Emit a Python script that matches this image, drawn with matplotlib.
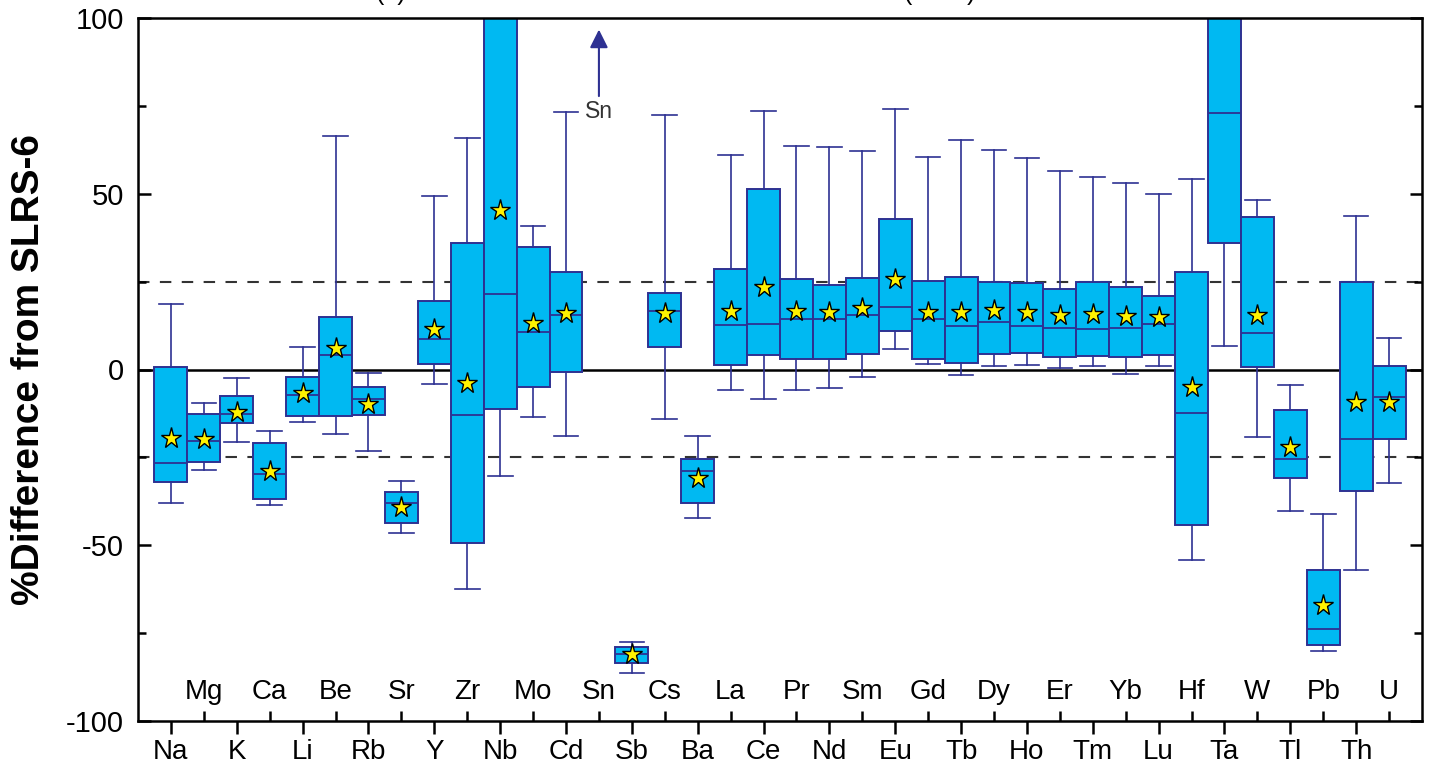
import numpy as np
import matplotlib
matplotlib.use('Agg')
import matplotlib.pyplot as plt

plt.rcParams['font.family'] = ['Liberation Sans', 'DejaVu Sans']
plt.rcParams['axes.unicode_minus'] = False

# elements in plotting order (Sn is off scale, drawn as an arrow)
elements = ['Na', 'Mg', 'K', 'Ca', 'Li', 'Be', 'Rb', 'Sr', 'Y', 'Zr',
            'Nb', 'Mo', 'Cd', 'Sn', 'Sb', 'Cs', 'Ba', 'La', 'Ce', 'Pr',
            'Nd', 'Sm', 'Eu', 'Gd', 'Tb', 'Dy', 'Ho', 'Er', 'Tm', 'Yb',
            'Lu', 'Hf', 'Ta', 'W', 'Tl', 'Pb', 'Th', 'U']
nan = np.nan
whis_lo = [-38, -28.6, -20.6, -38.5, -14.9, -18.3, -23.2, -46.5, -4, -62.4,
           -30.3, -13.5, -18.9, nan, -86.4, -14.1, -42.2, -5.8, -8.4, -5.8,
           -5.3, -2.1, 5.8, 1.5, -1.5, 1, 1.3, 0.4, 1, -1.3,
           1, -54.2, 6.7, -19.2, -40.3, -80.1, -57, -32.3]
q1 = [-32, -26.3, -15.2, -36.8, -13.2, -13.2, -13, -43.7, 1.5, -49.4,
      -11.2, -5, -0.7, nan, -83.6, 6.3, -38, 1.3, 4.1, 3,
      3, 4.4, 10.9, 3, 1.8, 4.4, 4.7, 3.6, 3.8, 3.6,
      4.1, -44.2, 36, 0.7, -30.9, -78.4, -34.6, -19.8]
med = [-26.6, -20.3, -12.7, -29.7, -7.2, 4.1, -8.4, -38, 8.7, -13,
       21.5, 10.7, 15.5, nan, -81, 16.6, -28.9, 12.6, 13, 14.4,
       14.4, 15.5, 17.8, 14.3, 12.4, 13.5, 12.4, 11.8, 11.5, 11.8,
       12.9, -12.4, 73, 10.4, -25.5, -73.8, -19.8, -7.8]
q3 = [0.7, -12.7, -7.5, -20.9, -2.1, 14.9, -5, -34.8, 19.5, 36,
      115, 34.8, 27.7, nan, -79, 21.7, -25.5, 28.6, 51.3, 25.8,
      24, 26, 42.8, 25.2, 26.3, 24.9, 24.6, 22.9, 24.9, 23.5,
      20.9, 27.7, 120, 43.4, -11.5, -57, 24.9, 1]
whis_hi = [18.7, -9.5, -2.4, -17.5, 6.4, 66.4, -1, -31.7, 49.3, 65.9,
           140, 40.8, 73.3, nan, -77.5, 72.4, -18.9, 61, 73.5, 63.6,
           63.3, 62.1, 74, 60.5, 65.3, 62.4, 60.2, 56.5, 54.8, 53.1,
           49.9, 54.2, 150, 48.3, -4.4, -41.1, 43.7, 9]
mean = [-19.5, -19.8, -12, -29, -6.7, 6.1, -9.8, -39.1, 11.5, -3.9,
        45.4, 13.3, 16.1, nan, -81, 16, -30.9, 16.6, 23.5, 16.6,
        16.4, 17.5, 25.7, 16.4, 16.4, 16.9, 16.4, 15.5, 15.8, 15.2,
        14.9, -4.9, 110, 15.5, -22, -67, -9.2, -9.2]

box_fc = '#00B9F2'
navy = '#2E3192'

stats, pos = [], []
for i, el in enumerate(elements):
    if np.isnan(med[i]):
        continue
    stats.append(dict(whislo=whis_lo[i], q1=q1[i], med=med[i], q3=q3[i],
                      whishi=whis_hi[i], mean=mean[i], fliers=[], label=el))
    pos.append(i + 1)

fig = plt.figure(figsize=(14.4, 7.72), dpi=100)
ax = fig.add_axes([138/1440, 1-721/772, 1284/1440, 703/772])

ax.axhline(0, color='black', lw=1.8, zorder=1)
for yv in (25, -25):
    ax.axhline(yv, color='#333333', lw=1.5, ls=(0, (5.5, 5)), zorder=1)

ax.bxp(stats, positions=pos, widths=1.0, capwidths=0.75, patch_artist=True,
       showmeans=True, manage_ticks=False,
       boxprops=dict(facecolor=box_fc, edgecolor=navy, lw=1.4),
       whiskerprops=dict(color=navy, lw=1.2),
       capprops=dict(color=navy, lw=1.2),
       medianprops=dict(color=navy, lw=1.3),
       meanprops=dict(marker='*', markerfacecolor='#FFF200',
                      markeredgecolor='black', markeredgewidth=1,
                      markersize=15.5),
       zorder=2)

# Sn is off the top of the scale
sn = elements.index('Sn') + 1
ax.annotate('', xy=(sn, 97.5), xytext=(sn, 77),
            arrowprops=dict(arrowstyle='-|>,head_length=0.5,head_width=0.25',
                            color=navy, lw=1.5, mutation_scale=22))
ax.text(sn, 73.3, 'Sn', ha='center', va='center', fontsize=16.5, color='#333333')

ax.set_xlim(0, len(elements) + 1)
ax.set_ylim(-100, 100)

# element labels alternate: below the axis and just inside it
odd = [i + 1 for i in range(0, len(elements), 2)]
even = [i + 1 for i in range(1, len(elements), 2)]
ax.set_xticks(odd, [elements[i - 1] for i in odd], fontsize=20)
ax.set_xticks(even, [elements[i - 1] for i in even], minor=True, fontsize=20)
ax.tick_params(axis='x', which='major', direction='out', length=9, width=1.8, pad=4)
ax.tick_params(axis='x', which='minor', direction='in', length=7, width=1.8, pad=-30)

ax.set_yticks([-100, -50, 0, 50, 100])
ax.set_yticks([-75, -25, 25, 75], minor=True)
ax.tick_params(axis='y', which='major', direction='in', length=9, width=1.8,
               labelsize=21, pad=10, right=True)
ax.tick_params(axis='y', which='minor', direction='in', length=6, width=1.8, right=True)

for s in ax.spines.values():
    s.set_linewidth(1.8)

ax.set_ylabel('%Difference from SLRS-6', fontsize=28, fontweight='bold')
ax.yaxis.set_label_coords(-0.071, 0.5)

# title sits mostly above the figure edge, as in the original
fig.text(391/1440, 1.0, '(a)', ha='center', va='baseline', fontsize=18)
fig.text(940/1440, 1.0, '(2019)', ha='center', va='baseline', fontsize=18)

fig.savefig('out.png', dpi=100)
